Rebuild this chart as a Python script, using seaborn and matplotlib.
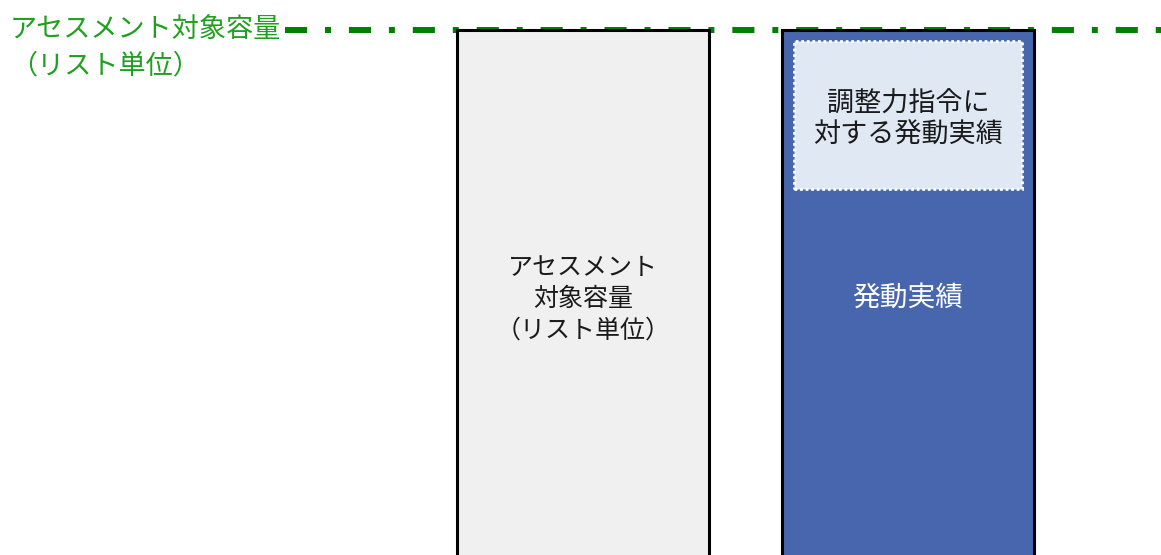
import matplotlib
matplotlib.use("Agg")
import matplotlib.pyplot as plt
import seaborn as sns

# data
categories = ["アセスメント対象容量", "発動実績"]
bar_values = [100, 100]
bar_colors = ["#f0f0f0", "#4866ad"]
base_result = 71       # 発動実績 (lower part)
adjust_result = 27     # 調整力指令に対する発動実績 (upper part)
capacity_level = 100

bar_labels = ["アセスメント\n対象容量\n（リスト単位）", "発動実績"]
inner_label = "調整力指令に\n対する発動実績"
line_label = "アセスメント対象容量\n（リスト単位）"

sns.set_theme(style="white")
plt.rcParams["font.family"] = ["Noto Sans CJK JP", "DejaVu Sans"]

fig = plt.figure(figsize=(11.61, 5.55), dpi=100)
ax = fig.add_axes([0, 0, 1, 1])

# capacity line (behind bars)
ax.plot([-0.917, 1.8], [capacity_level, capacity_level], color="#008000",
        linewidth=4.3, dashes=(3.7, 3, 1, 3), solid_capstyle="butt",
        dash_capstyle="butt", zorder=1)

sns.barplot(x=categories, y=bar_values, hue=categories, palette=bar_colors,
            legend=False, width=0.775, edgecolor="black", linewidth=2.2,
            saturation=1, ax=ax, zorder=2)

# inner dotted box for adjustment response
ax.bar(1, adjust_result, bottom=base_result, width=0.7, color="#dfe8f3",
       edgecolor="white", linewidth=2, linestyle=(0, (1, 1)), zorder=3)

ax.text(0, 51, bar_labels[0], ha="center", va="center", fontsize=18,
        color="#1a1a1a", linespacing=1.25, zorder=4)
ax.text(1, 51.3, bar_labels[1], ha="center", va="center", fontsize=20,
        color="white", zorder=4)
ax.text(1, base_result + adjust_result / 2 - 0.8, inner_label, ha="center",
        va="center", fontsize=19.5, color="#1a1a1a", linespacing=1.2, zorder=4)

ax.set_xlim(-1.794, 1.778)
ax.set_ylim(4.5, 105.45)
ax.axis("off")

fig.text(10 / 1161, 1 - 48 / 555, line_label, ha="left", va="center",
         fontsize=19.5, color="#1fa01f", linespacing=1.45)

fig.savefig("out.png", dpi=100)
